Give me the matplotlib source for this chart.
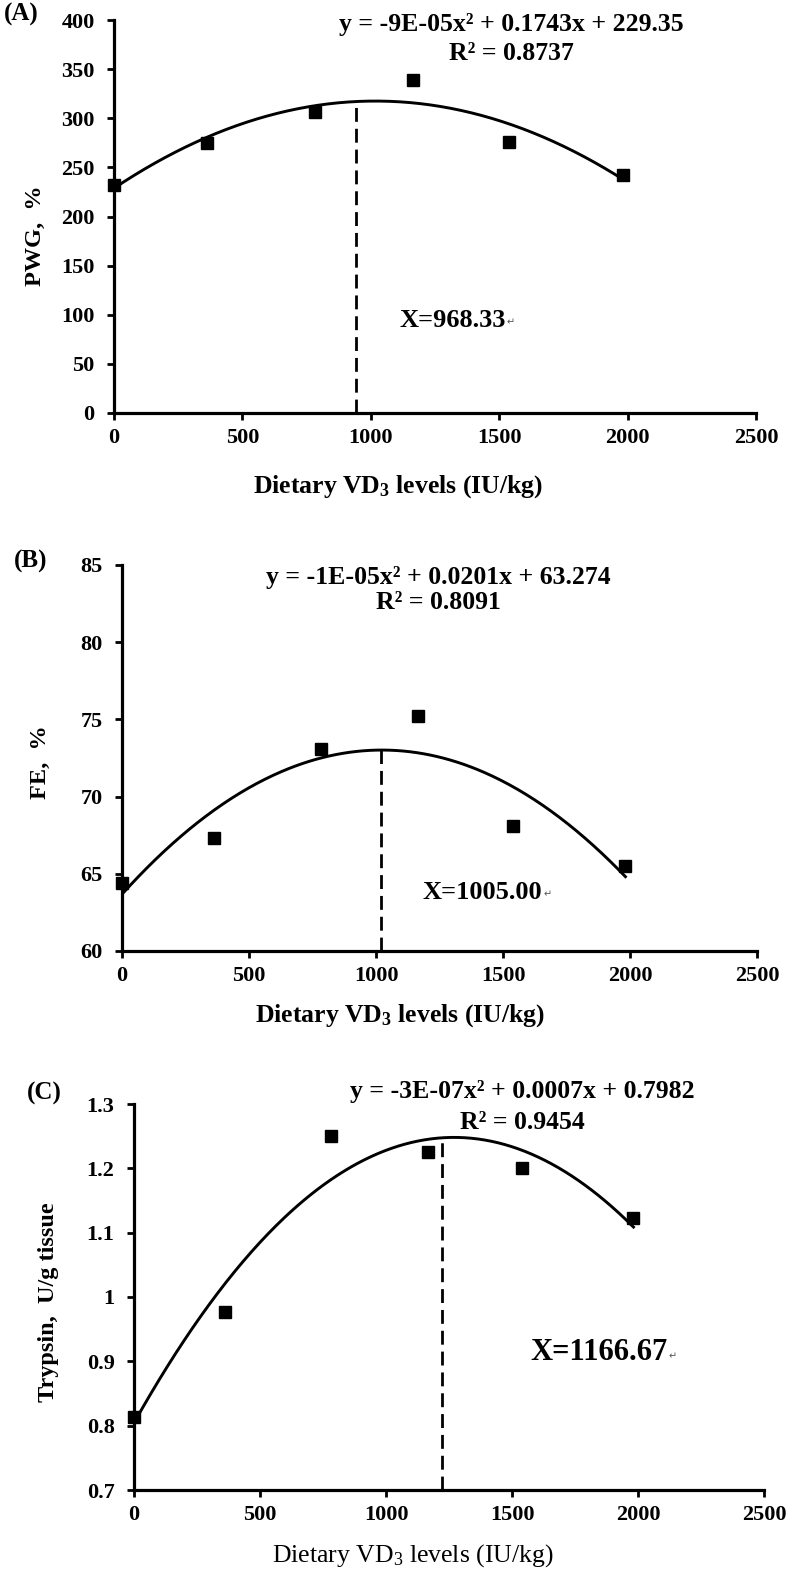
import numpy as np
import matplotlib
matplotlib.use("Agg")
import matplotlib.pyplot as plt

plt.rcParams['font.family'] = ['Liberation Serif', 'DejaVu Sans']
plt.rcParams['mathtext.fontset'] = 'custom'
plt.rcParams['mathtext.rm'] = 'Liberation Serif'
plt.rcParams['mathtext.bf'] = 'Liberation Serif:bold'
plt.rcParams['mathtext.it'] = 'Liberation Serif:italic'
plt.rcParams['lines.scale_dashes'] = False

# ---- data ----
vd3_levels = [0, 363, 783, 1165, 1538, 1982]
pwg = [232, 275, 306, 339, 276, 242]
fe = [64.4, 67.3, 73.1, 75.2, 68.1, 65.5]
trypsin = [0.814, 0.977, 1.251, 1.225, 1.201, 1.123]

x_ticks = [0, 500, 1000, 1500, 2000, 2500]
pwg_ticks = [0, 50, 100, 150, 200, 250, 300, 350, 400]
fe_ticks = [60, 65, 70, 75, 80, 85]
trypsin_ticks = [0.7, 0.8, 0.9, 1.0, 1.1, 1.2, 1.3]
trypsin_ticklabels = ["0.7", "0.8", "0.9", "1", "1.1", "1.2", "1.3"]

eq_a = "y = -9E-05x² + 0.1743x + 229.35"
r2_a = "R² = 0.8737"
opt_a = "X=968.33"
eq_b = "y = -1E-05x² + 0.0201x + 63.274"
r2_b = "R² = 0.8091"
opt_b = "X=1005.00"
eq_c = "y = -3E-07x² + 0.0007x + 0.7982"
r2_c = "R² = 0.9454"
opt_c = "X=1166.67"

vline_x = [942, 1020, 1222]

fig = plt.figure(figsize=(7.92, 15.72), dpi=100)
W, H = 792, 1572


def make_axes(left, right, top, bottom):
    return fig.add_axes([left / W, 1 - bottom / H, (right - left) / W, (bottom - top) / H])


def style(ax, yticks, ylim, yticklabels=None):
    ax.set_xlim(0, 2500)
    ax.set_ylim(*ylim)
    ax.set_xticks(x_ticks)
    ax.set_yticks(yticks)
    if yticklabels is not None:
        ax.set_yticklabels(yticklabels)
    for s in ['top', 'right']:
        ax.spines[s].set_visible(False)
    for s in ['left', 'bottom']:
        ax.spines[s].set_linewidth(2.3)
    ax.tick_params(axis='both', direction='out', length=5, width=2.0)
    ax.tick_params(axis='y', pad=9)
    ax.tick_params(axis='x', pad=6)
    for lab in ax.get_xticklabels() + ax.get_yticklabels():
        lab.set_fontsize(16)
        lab.set_fontweight('bold')


def draw(ax, y, vx, ybottom):
    coef = np.polyfit(vd3_levels, y, 2)
    xs = np.linspace(vd3_levels[0], vd3_levels[-1], 300)
    ax.plot(xs, np.polyval(coef, xs), color='black', lw=2.1, zorder=2)
    ax.plot(vd3_levels, y, 's', color='black', ms=8, zorder=3, clip_on=False)
    ax.plot([vx, vx], [ybottom, np.polyval(coef, vx)], color='black', lw=2.0,
            dashes=(10, 5), zorder=2)


def opt_label(ax, x, y, txt, size):
    t = ax.text(x, y, txt, fontsize=size, fontweight='bold', ha='left', va='center')
    ax.annotate('↵', xy=(1, 0.2), xycoords=t, fontsize=7, color='#555555',
                ha='left', va='bottom', family='DejaVu Sans', xytext=(1, 0),
                textcoords='offset points')


# ---- Panel A ----
axA = make_axes(114, 756, 20, 413)
style(axA, pwg_ticks, (0, 400))
draw(axA, pwg, vline_x[0], 0)
axA.text(1546, 395, eq_a, fontsize=18.5, fontweight='bold', ha='center', va='center')
axA.text(1546, 366, r2_a, fontsize=18.5, fontweight='bold', ha='center', va='center')
opt_label(axA, 1110, 94.6, opt_a, 19)
axA.set_ylabel("PWG,  %", fontsize=17.5, fontweight='bold', va='center', ha='center')
axA.yaxis.set_label_coords(-0.123, 0.45)
axA.set_xlabel(r"Dietary VD$_{\mathbf{3}}$ levels (IU/kg)", fontsize=18.5,
               fontweight='bold', va='center', ha='center')
axA.xaxis.set_label_coords(0.442, -0.188)
fig.text(21 / W, 1 - 14 / H, "(A)", fontsize=18, fontweight='bold', ha='center', va='center')

# ---- Panel B ----
axB = make_axes(122, 757, 565, 951)
style(axB, fe_ticks, (60, 85))
draw(axB, fe, vline_x[1], 60)
axB.text(1244, 84.2, eq_b, fontsize=18.5, fontweight='bold', ha='center', va='center')
axB.text(1244, 82.6, r2_b, fontsize=18.5, fontweight='bold', ha='center', va='center')
opt_label(axB, 1185, 63.8, opt_b, 19)
axB.set_ylabel("FE,  %", fontsize=17.5, fontweight='bold', va='center', ha='center')
axB.yaxis.set_label_coords(-0.129, 0.49)
axB.set_xlabel(r"Dietary VD$_{\mathbf{3}}$ levels (IU/kg)", fontsize=18.5,
               fontweight='bold', va='center', ha='center')
axB.xaxis.set_label_coords(0.438, -0.168)
fig.text(31 / W, 1 - 561 / H, "(B)", fontsize=18, fontweight='bold', ha='center', va='center')

# ---- Panel C ----
axC = make_axes(134, 764, 1104, 1490)
style(axC, trypsin_ticks, (0.7, 1.3), trypsin_ticklabels)
draw(axC, trypsin, vline_x[2], 0.7)
axC.text(1540, 1.319, eq_c, fontsize=18.5, fontweight='bold', ha='center', va='center')
axC.text(1540, 1.272, r2_c, fontsize=18.5, fontweight='bold', ha='center', va='center')
opt_label(axC, 1571, 0.913, opt_c, 22)
axC.set_ylabel("Trypsin,  U/g tissue", fontsize=17.5, fontweight='bold', va='center', ha='center')
axC.yaxis.set_label_coords(-0.135, 0.487)
axC.set_xlabel(r"Dietary VD$_{\mathrm{3}}$ levels (IU/kg)", fontsize=18.5,
               va='center', ha='center')
axC.xaxis.set_label_coords(0.443, -0.171)
fig.text(44 / W, 1 - 1093 / H, "(C)", fontsize=18, fontweight='bold', ha='center', va='center')

fig.savefig("out.png", dpi=100, facecolor='white')
